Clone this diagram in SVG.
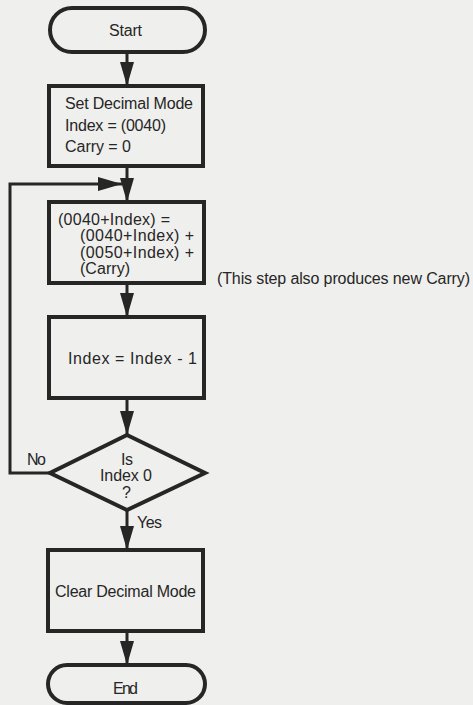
<svg xmlns="http://www.w3.org/2000/svg" width="473" height="705" viewBox="0 0 473 705">
<style>
.shape{fill:none;stroke:#262626;stroke-width:4;stroke-linejoin:miter}
.line{fill:none;stroke:#262626;stroke-width:3}
text{font-family:"Liberation Sans",Arial,sans-serif;font-size:16px;fill:#262626}
</style>
<defs>
<marker id="arr" markerUnits="userSpaceOnUse" markerWidth="26" markerHeight="16" refX="24" refY="7" orient="auto">
<path d="M0,0 L24,7 L0,14 Z" fill="#262626"/>
</marker>
</defs>
<rect x="0" y="0" width="473" height="705" fill="#efefed"/>
<g id="connectors">
<path class="line" d="M127,52 V86" marker-end="url(#arr)"/>
<path class="line" d="M127,166 V202" marker-end="url(#arr)"/>
<path class="line" d="M50,473 H10 V184 H122" marker-end="url(#arr)"/>
<path class="line" d="M127,283 V317" marker-end="url(#arr)"/>
<path class="line" d="M127,398 V435" marker-end="url(#arr)"/>
<path class="line" d="M127,510 V550" marker-end="url(#arr)"/>
<path class="line" d="M127,631 V665" marker-end="url(#arr)"/>
</g>
<g id="start">
<rect class="shape" x="50" y="8" width="155" height="44" rx="22" ry="22"/>
<text x="109" y="36" textLength="33" lengthAdjust="spacing">Start</text>
</g>
<g id="init">
<rect class="shape" x="49" y="86" width="154" height="80"/>
<text x="65" y="109" textLength="128" lengthAdjust="spacing">Set Decimal Mode</text>
<text x="65" y="131" textLength="101" lengthAdjust="spacing">Index = (0040)</text>
<text x="65" y="152" textLength="66" lengthAdjust="spacing">Carry = 0</text>
</g>
<g id="add">
<rect class="shape" x="49" y="202" width="155" height="81"/>
<text x="58" y="225" textLength="112" lengthAdjust="spacing">(0040+Index) =</text>
<text x="80" y="241" textLength="114" lengthAdjust="spacing">(0040+Index) +</text>
<text x="80" y="258" textLength="114" lengthAdjust="spacing">(0050+Index) +</text>
<text x="80" y="274" textLength="50" lengthAdjust="spacing">(Carry)</text>
</g>
<g id="note">
<text x="217" y="284" textLength="253" lengthAdjust="spacing">(This step also produces new Carry)</text>
</g>
<g id="dec">
<rect class="shape" x="49" y="317" width="155" height="81"/>
<text x="68" y="364" textLength="129" lengthAdjust="spacing">Index = Index - 1</text>
</g>
<g id="test">
<path class="shape" d="M127,435 L205,473 L127,510 L50,473 Z"/>
<text x="121" y="465" textLength="12" lengthAdjust="spacing">Is</text>
<text x="100" y="481" textLength="52" lengthAdjust="spacing">Index 0</text>
<text x="122" y="498">?</text>
<text x="27" y="465" textLength="19" lengthAdjust="spacing">No</text>
<text x="137" y="528" textLength="25" lengthAdjust="spacing">Yes</text>
</g>
<g id="clear">
<rect class="shape" x="48" y="550" width="155" height="81"/>
<text x="55" y="597" textLength="141" lengthAdjust="spacing">Clear Decimal Mode</text>
</g>
<g id="end">
<rect class="shape" x="48" y="665" width="157" height="38" rx="19" ry="19"/>
<text x="113" y="694" textLength="25" lengthAdjust="spacing">End</text>
</g>
</svg>
